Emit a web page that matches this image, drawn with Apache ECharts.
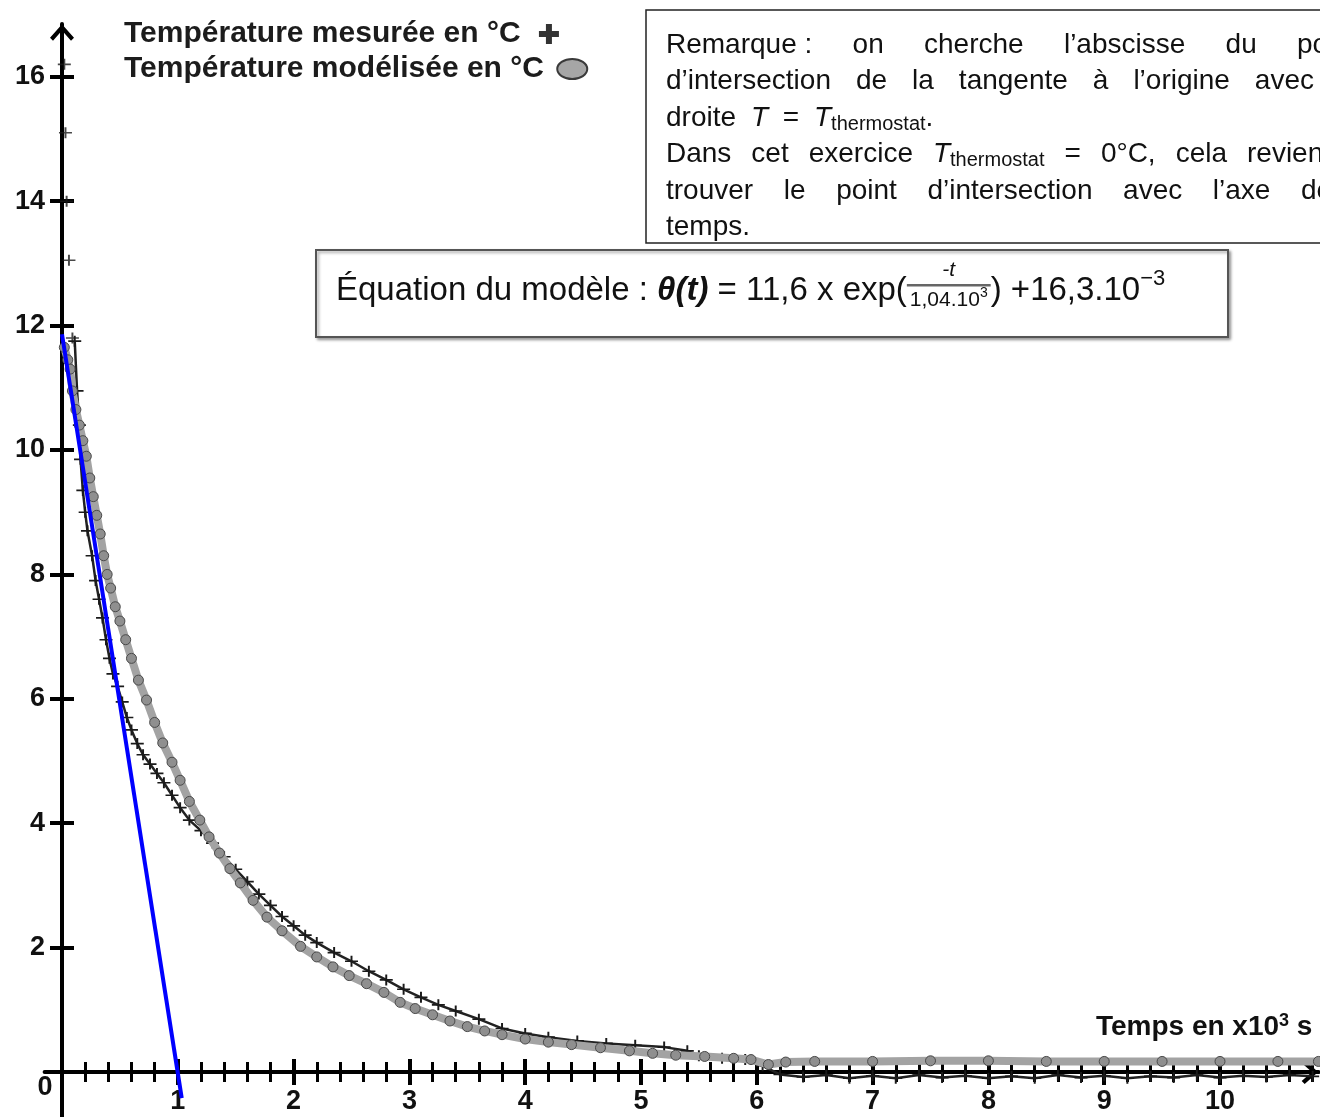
<!DOCTYPE html>
<html>
<head>
<meta charset="utf-8">
<title>Température mesurée et modélisée</title>
<script src="https://cdn.jsdelivr.net/npm/echarts@6.0.0/dist/echarts.min.js"></script>
<style>
  html, body { margin: 0; padding: 0; background: #fff; }
  #chart { width: 1320px; height: 1117px; }
</style>
</head>
<body>
<div id="chart"></div>
<script>
// temps en x10^3 s, température en °C
const NOM_MESURE = 'Température mesurée en °C';
const NOM_MODELE = 'Température modélisée en °C';

// premiers points mesurés, isolés le long de l'axe
const mesureDebut = [[0.02, 16.2], [0.03, 15.1], [0.04, 14.0], [0.06, 13.05], [0.09, 11.8]];

const mesure = [
  [0.11, 11.75], [0.13, 10.95], [0.15, 10.4], [0.16, 9.85], [0.18, 9.35], [0.2, 9.0], [0.22, 8.7],
  [0.26, 8.3], [0.29, 7.9], [0.32, 7.6], [0.35, 7.3], [0.38, 6.95], [0.41, 6.65], [0.44, 6.4],
  [0.48, 6.2], [0.52, 5.95], [0.56, 5.7], [0.6, 5.5], [0.65, 5.28], [0.7, 5.1], [0.76, 4.95],
  [0.82, 4.8], [0.88, 4.65], [0.95, 4.45], [1.02, 4.25], [1.1, 4.05], [1.2, 3.88], [1.3, 3.68],
  [1.4, 3.46], [1.5, 3.26], [1.6, 3.06], [1.7, 2.86], [1.8, 2.68], [1.9, 2.5], [2.0, 2.35],
  [2.1, 2.2], [2.2, 2.08], [2.35, 1.92], [2.5, 1.78], [2.65, 1.62], [2.8, 1.48], [2.95, 1.33],
  [3.1, 1.2], [3.25, 1.08], [3.4, 0.98], [3.6, 0.85], [3.8, 0.7], [4.0, 0.62], [4.2, 0.56],
  [4.45, 0.5], [4.7, 0.46], [4.95, 0.43], [5.2, 0.4], [5.4, 0.34], [5.5, 0.26], [5.7, 0.22],
  [5.9, 0.2], [6.05, 0.1], [6.2, -0.04], [6.4, -0.08], [6.6, -0.05], [6.8, -0.1], [7.0, -0.06],
  [7.2, -0.1], [7.4, -0.05], [7.6, -0.09], [7.8, -0.06], [8.0, -0.1], [8.2, -0.07], [8.4, -0.1],
  [8.6, -0.05], [8.8, -0.09], [9.0, -0.06], [9.2, -0.1], [9.4, -0.07], [9.6, -0.09], [9.8, -0.05],
  [10.0, -0.09], [10.2, -0.06], [10.4, -0.08], [10.6, -0.05], [10.8, -0.07]
];

const modele = [
  [0.02, 11.65], [0.05, 11.45], [0.07, 11.3], [0.09, 10.95], [0.12, 10.65], [0.15, 10.4],
  [0.18, 10.15], [0.21, 9.9], [0.24, 9.55], [0.27, 9.25], [0.3, 8.95], [0.33, 8.65], [0.36, 8.3],
  [0.39, 8.0], [0.42, 7.78], [0.46, 7.48], [0.5, 7.25], [0.55, 6.95], [0.6, 6.65], [0.66, 6.3],
  [0.73, 5.98], [0.8, 5.62], [0.87, 5.29], [0.95, 4.98], [1.02, 4.69], [1.1, 4.35], [1.19, 4.05],
  [1.27, 3.78], [1.36, 3.52], [1.45, 3.27], [1.54, 3.04], [1.65, 2.76], [1.77, 2.49], [1.9, 2.27],
  [2.06, 2.02], [2.2, 1.85], [2.34, 1.69], [2.48, 1.55], [2.63, 1.42], [2.78, 1.28], [2.92, 1.12],
  [3.05, 1.02], [3.2, 0.92], [3.35, 0.82], [3.5, 0.73], [3.65, 0.66], [3.8, 0.6], [4.0, 0.53],
  [4.2, 0.48], [4.4, 0.44], [4.65, 0.39], [4.9, 0.34], [5.1, 0.3], [5.3, 0.27], [5.55, 0.25],
  [5.8, 0.22], [5.95, 0.2], [6.1, 0.12], [6.25, 0.16], [6.5, 0.17], [7.0, 0.17], [7.5, 0.18],
  [8.0, 0.18], [8.5, 0.17], [9.0, 0.17], [9.5, 0.17], [10.0, 0.17], [10.5, 0.17], [10.85, 0.17]
];

// tangente à l'origine
const tangente = [[0, 11.86], [1.034, -0.42]];

const xMajeurs = [0, 1, 2, 3, 4, 5, 6, 7, 8, 9, 10];
const yGraduations = [2, 4, 6, 8, 10, 12, 14, 16];

// petites graduations tous les 0,2
const xMineurs = [];
for (let i = 1; i < 55; i++) {
  if (i % 5 !== 0) xMineurs.push(Math.round(i * 20) / 100);
}

// échelle de la figure (pixels par unité) et origine
const PX_X = 115.8, PX_Y = 62.2, O_X = 62, O_Y = 1072;
const X_MIN = -0.15, X_MAX = 10.85, Y_MIN = -0.75, Y_MAX = 16.85;
const gridLeft = O_X + X_MIN * PX_X;
const gridTop = O_Y - Y_MAX * PX_Y;
const gridW = (X_MAX - X_MIN) * PX_X;
const gridH = (Y_MAX - Y_MIN) * PX_Y;
const offX = Y_MIN * PX_Y;   // remonte les axes x jusqu'à T = 0
const offY = X_MIN * PX_X;   // décale les axes y jusqu'à t = 0

const FONT = 'Liberation Sans';
const CROIX = 'path://M8.5,0H11.5V8.5H20V11.5H11.5V20H8.5V11.5H0V8.5H8.5Z';
const CROIX_LEGENDE = 'path://M7,0H13V7H20V13H13V20H7V13H0V7H7Z';
const ELLIPSE = 'path://M0,10A15,10,0,1,1,30,10A15,10,0,1,1,0,10Z';
const FLECHE = 'path://M0,13.5L12,0L24,13.5L21,16.5L12,6.3L3,16.5Z';

// ---- textes encadrés ----
const ctx = document.createElement('canvas').getContext('2d');
const largeur = (t, f) => { ctx.font = f; return ctx.measureText(t).width; };
const txt = (t, x, y, f, align) => ({
  type: 'text', x: x, y: y, z: 101,
  style: { text: t, font: f, fill: '#111', align: align || 'left', verticalAlign: 'middle' }
});

const F_N = '28px "' + FONT + '"';
const F_I = 'italic 28px "' + FONT + '"';
const F_S = '20px "' + FONT + '"';
const mot = t => [{ t: t, f: F_N }];
const tTherm = (suite) => {
  const m = [{ t: 'T', f: F_I }, { t: 'thermostat', f: F_S, dy: 6 }];
  if (suite) m.push({ t: suite, f: F_N });
  return m;
};

function ligne(mots, y, x0, mode, xFin) {
  const els = [];
  const w = mots.map(m => m.reduce((s, p) => s + largeur(p.t, p.f), 0));
  let gap = largeur(' ', F_N);
  if (mode !== 'naturel') {
    const fin = mode === 'debut' ? xFin : xFin - w[w.length - 1];
    const somme = w.slice(0, -1).reduce((a, b) => a + b, 0);
    gap = (fin - x0 - somme) / (mots.length - 1);
  }
  let x = x0;
  mots.forEach((m, i) => {
    let xx = x;
    m.forEach(p => {
      els.push(txt(p.t, xx, y + (p.dy || 0), p.f));
      xx += largeur(p.t, p.f);
    });
    x += w[i] + gap;
  });
  return els;
}

const remarque = [].concat(
  ligne(['Remarque\u00a0:', 'on', 'cherche', 'l\u2019abscisse', 'du', 'point'].map(mot), 45, 666, 'debut', 1297),
  ligne(['d\u2019intersection', 'de', 'la', 'tangente', 'à', 'l\u2019origine', 'avec'].map(mot), 81.5, 666, 'fin', 1314),
  ligne([mot('droite'), [{ t: 'T', f: F_I }], mot('='), tTherm('.')], 118, 666, 'debut', 814),
  ligne([mot('Dans'), mot('cet'), mot('exercice'), tTherm(), mot('='), mot('0°C,'), mot('cela'), mot('revient')], 154.5, 666, 'debut', 1247),
  ligne(['trouver', 'le', 'point', 'd\u2019intersection', 'avec', 'l\u2019axe', 'des'].map(mot), 191, 666, 'debut', 1301),
  ligne([mot('temps.')], 227.5, 666, 'naturel')
);

function equation() {
  const els = [];
  const y = 291;
  let x = 336;
  const F = '33px "' + FONT + '"';
  const FB = 'italic bold 33px "' + FONT + '"';
  const FP = '21px "' + FONT + '"';
  const FPI = 'italic 21px "' + FONT + '"';
  const FE = '14px "' + FONT + '"';
  const FX = '22px "' + FONT + '"';
  const put = (t, f, dy) => { els.push(txt(t, x, y + (dy || 0), f)); x += largeur(t, f); };
  put('Équation du modèle : ', F);
  put('\u03b8(t)', FB);
  put(' = 11,6 x exp(', F);
  const wDen = largeur('1,04.10', FP) + largeur('3', FE);
  const wBar = wDen + 6;
  els.push(txt('-t', x + wBar / 2, y - 21, FPI, 'center'));
  els.push({ type: 'rect', z: 101, shape: { x: x, y: y - 7, width: wBar, height: 2.5 }, style: { fill: '#666' } });
  els.push(txt('1,04.10', x + 3, y + 9, FP));
  els.push(txt('3', x + 3 + largeur('1,04.10', FP), y + 2, FE));
  x += wBar;
  put(') +16,3.10', F);
  put('\u22123', FX, -12);
  return els;
}

const cadres = [
  { type: 'rect', z: 100, shape: { x: 646, y: 10, width: 700, height: 233 },
    style: { fill: '#fff', stroke: '#222', lineWidth: 1.5 } },
  { type: 'rect', z: 100, shape: { x: 316, y: 250, width: 912, height: 87 },
    style: { fill: '#fff', stroke: '#555', lineWidth: 2, shadowBlur: 3, shadowColor: 'rgba(0,0,0,0.35)', shadowOffsetX: 2, shadowOffsetY: 2 } }
];

// ---- axes ----
const labelStyle = { fontFamily: FONT, fontWeight: 'bold', fontSize: 27, color: '#111' };
const nameStyle = { fontFamily: FONT, fontWeight: 'bold', fontSize: 28, color: '#111' };

const axeX = extra => Object.assign({
  type: 'value', min: X_MIN, max: X_MAX, position: 'bottom', offset: offX,
  axisLine: { show: false }, splitLine: { show: false },
  axisLabel: { show: false }, axisTick: { show: false }
}, extra);
const axeY = extra => Object.assign({
  type: 'value', min: Y_MIN, max: Y_MAX, position: 'left', offset: offY,
  axisLine: { show: false }, splitLine: { show: false },
  axisLabel: { show: false }, axisTick: { show: false }
}, extra);

const legende = (nom, icone, style, haut) => ({
  left: 124, top: haut, padding: 0, orient: 'vertical', align: 'right',
  itemWidth: 30, itemHeight: 20, selectedMode: false,
  formatter: n => n + ' ',
  textStyle: { fontFamily: FONT, fontWeight: 'bold', fontSize: 30, color: '#1c1c1c' },
  data: [{ name: nom, icon: icone, itemStyle: style }]
});

const chart = echarts.init(document.getElementById('chart'), null, { renderer: 'canvas' });

const option = {
  animation: false,
  backgroundColor: '#fff',
  grid: { left: gridLeft, top: gridTop, width: gridW, height: gridH, containLabel: false, outerBoundsMode: 'none' },
  legend: [
    legende(NOM_MESURE, CROIX_LEGENDE, { color: '#000', borderWidth: 0 }, 19),
    legende(NOM_MODELE, ELLIPSE, { color: '#a6a6a6', borderColor: '#3a3a3a', borderWidth: 2 }, 54)
  ],
  xAxis: [
    axeX({
      axisLine: { show: true, symbol: ['none', FLECHE], symbolSize: [24, 17], symbolOffset: [0, -8.5],
        lineStyle: { color: '#000', width: 4 } },
      axisTick: { show: true, customValues: xMajeurs, length: 13, lineStyle: { color: '#000', width: 4 } },
      axisLabel: {
        show: true, customValues: xMajeurs, margin: 15,
        formatter: v => v === 0 ? '{o|0}' : '{n|' + v + '}',
        rich: {
          n: Object.assign({ lineHeight: 30 }, labelStyle),
          o: Object.assign({ lineHeight: 1, padding: [0, 34, 0, 0] }, labelStyle)
        }
      },
      name: '{a|Temps en x10}{e|3}{a| s}',
      nameLocation: 'end', nameGap: -6, nameMoveOverlap: false,
      nameTextStyle: {
        align: 'right', verticalAlign: 'bottom', padding: [0, 0, 30, 0],
        rich: {
          a: Object.assign({ lineHeight: 30 }, nameStyle),
          e: { fontFamily: FONT, fontWeight: 'bold', fontSize: 18, color: '#111', lineHeight: 18, verticalAlign: 'top' }
        }
      }
    }),
    axeX({ axisTick: { show: true, inside: true, customValues: xMajeurs, length: 13, lineStyle: { color: '#000', width: 4 } } }),
    axeX({ axisTick: { show: true, customValues: xMineurs, length: 10, lineStyle: { color: '#000', width: 3 } } }),
    axeX({ axisTick: { show: true, inside: true, customValues: xMineurs, length: 10, lineStyle: { color: '#000', width: 3 } } })
  ],
  yAxis: [
    axeY({
      axisLine: { show: true, symbol: ['none', FLECHE], symbolSize: [24, 17], symbolOffset: [0, -8.5],
        lineStyle: { color: '#000', width: 4 } },
      axisTick: { show: true, customValues: yGraduations, length: 12, lineStyle: { color: '#000', width: 4 } },
      axisLabel: Object.assign({ show: true, customValues: yGraduations, margin: 17 }, labelStyle)
    }),
    axeY({ axisTick: { show: true, inside: true, customValues: yGraduations, length: 12, lineStyle: { color: '#000', width: 4 } } })
  ],
  series: [
    {
      name: NOM_MESURE, type: 'scatter', data: mesureDebut, silent: true,
      symbol: CROIX, symbolSize: [13, 11], itemStyle: { color: '#1a1a1a' }, z: 3
    },
    {
      name: NOM_MESURE, type: 'line', data: mesure, silent: true,
      symbol: CROIX, symbolSize: [13, 11], showSymbol: true,
      lineStyle: { color: '#222', width: 2.5 }, itemStyle: { color: '#1a1a1a' }, z: 3
    },
    {
      name: NOM_MODELE, type: 'line', data: modele, silent: true,
      symbol: 'circle', symbolSize: 10,
      lineStyle: { color: '#a3a3a3', width: 8 },
      itemStyle: { color: '#8f8f8f', borderColor: '#4a4a4a', borderWidth: 1 }, z: 4
    },
    {
      name: 'Tangente', type: 'line', data: tangente, silent: true, showSymbol: false,
      lineStyle: { color: '#0000ff', width: 4 }, z: 6
    }
  ],
  graphic: { elements: cadres.concat(remarque, equation()) }
};

if (option && typeof option === 'object') {
  chart.setOption(option);
}
</script>
</body>
</html>
